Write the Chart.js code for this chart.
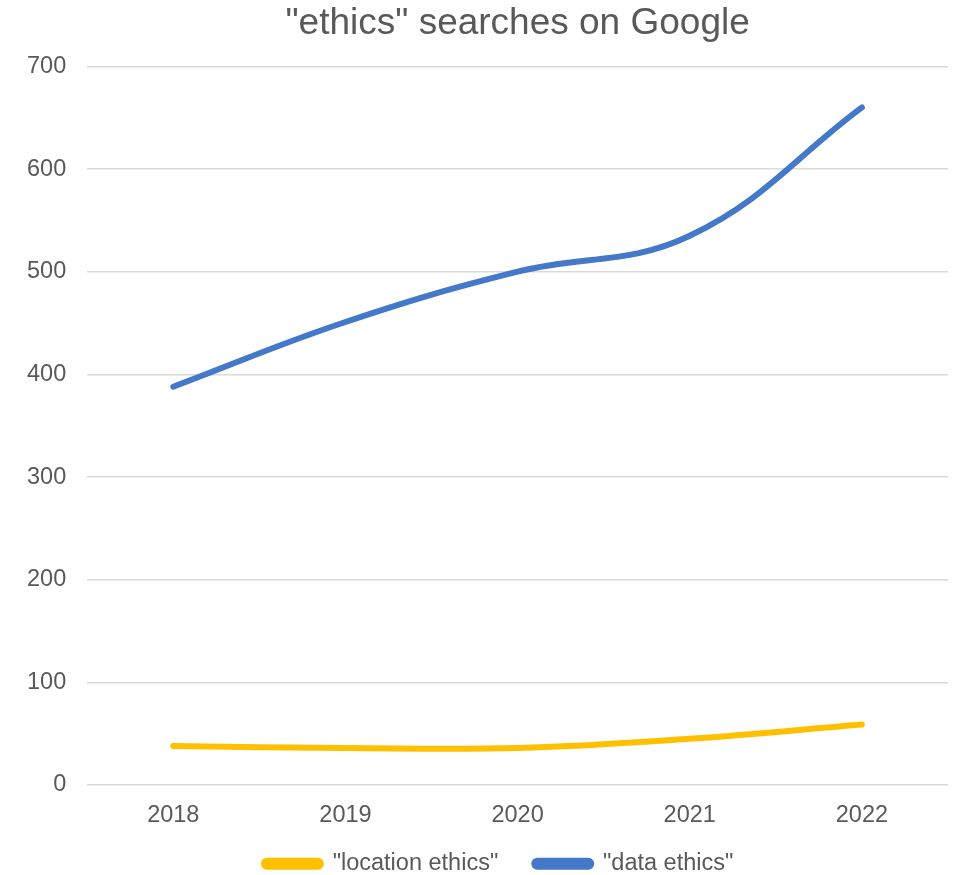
<!DOCTYPE html>
<html><head><meta charset="utf-8">
<script src="https://cdn.jsdelivr.net/npm/chart.js@4"></script>
<style>html,body{margin:0;padding:0;background:#fff}#wrap{width:954px;height:875px}</style>
</head><body><div id="wrap"><canvas id="c" width="954" height="875"></canvas></div>
<script>
const categories = ["2018", "2019", "2020", "2021", "2022"];
const locationEthics = [38, 36, 36, 45, 59];
const dataEthics = [388, 451, 500, 535, 660];
const yTicks = [0, 100, 200, 300, 400, 500, 600, 700];

const FONT = 'Liberation Sans';
const legendFix = {
  id: 'legendFix',
  beforeLayout(chart) {
    const lg = chart.legend;
    if (lg && !lg._patched) {
      const f = lg.fit.bind(lg);
      lg.fit = function () { f(); this.height = 40; };
      lg._patched = true;
    }
  },
  afterLayout(chart) {
    const lg = chart.legend;
    if (lg) { lg.left -= 19; lg.right -= 19; lg.top = 816; lg.bottom = 875; lg.height = 59; }
  }
};
new Chart(document.getElementById('c'), {
  type: 'line',
  data: {
    labels: categories,
    datasets: [
      { label: '"location ethics"', data: locationEthics, borderColor: '#FFC000', backgroundColor: '#FFC000', borderWidth: 6, tension: 0.4, pointRadius: 0, borderCapStyle: 'round' },
      { label: '"data ethics"', data: dataEthics, borderColor: '#4478C8', backgroundColor: '#4478C8', borderWidth: 6, tension: 0.4, pointRadius: 0, borderCapStyle: 'round' }
    ]
  },
  plugins: [legendFix],
  options: {
    responsive: false,
    animation: false,
    layout: { padding: { left: 6, right: 6, top: 0, bottom: 0 } },
    plugins: {
      title: { display: true, fullSize: false, text: '"ethics" searches on Google', color: '#595959', font: { family: FONT, size: 37, weight: 'normal' }, padding: { top: 2, bottom: 20 } },
      legend: { position: 'bottom', fullSize: false, labels: { color: '#595959', font: { family: FONT, size: 23.5 }, boxWidth: 57, boxHeight: 6, padding: 36, useBorderRadius: true, borderRadius: 3 } },
      tooltip: { enabled: false }
    },
    scales: {
      x: {
        offset: true,
        grid: { display: false, drawTicks: false },
        border: { display: false },
        ticks: { color: '#595959', font: { family: FONT, size: 23.5 }, padding: 16 },
        afterFit: (s) => { s.height = 50; }
      },
      y: {
        min: 0, max: 700,
        afterBuildTicks: (s) => { s.ticks = yTicks.map(v => ({ value: v })); },
        grid: { color: '#D9D9D9', lineWidth: 1.5, drawTicks: false },
        border: { display: false },
        ticks: { color: '#595959', font: { family: FONT, size: 23.5 }, padding: 21 }
      }
    }
  }
});
</script></body></html>
